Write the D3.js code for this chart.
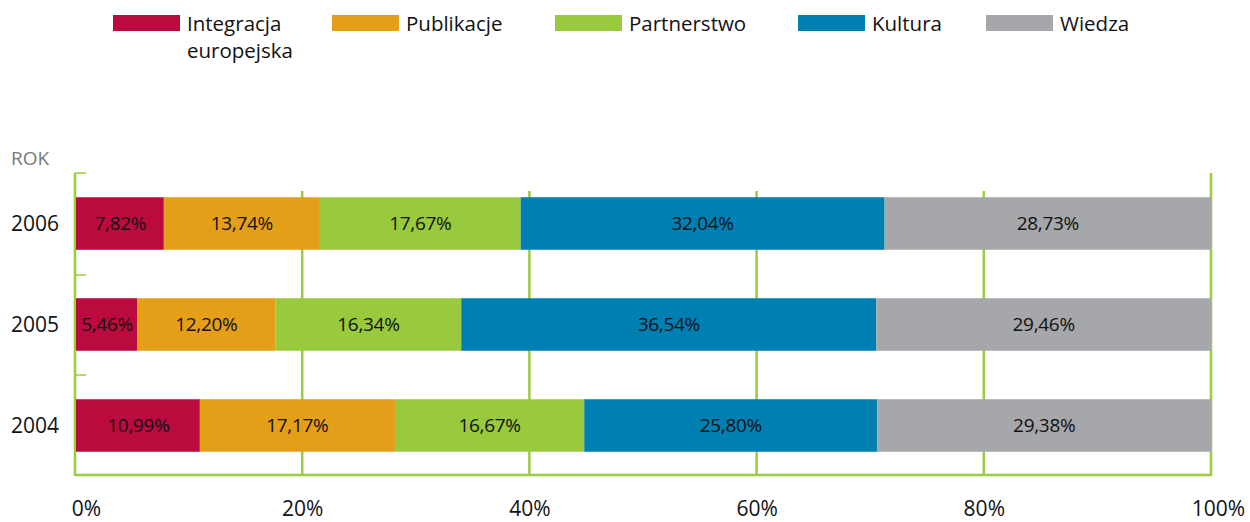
<!DOCTYPE html>
<html><head><meta charset="utf-8">
<script src="https://cdn.jsdelivr.net/npm/d3@7"></script>
<style>body{margin:0;background:#fff}svg{display:block}text{font-family:"Open Sans",sans-serif}</style>
</head><body><svg id="c" width="1250" height="522"></svg>
<script>
const years = ["2006", "2005", "2004"];
const seriesNames = ["Integracja europejska", "Publikacje", "Partnerstwo", "Kultura", "Wiedza"];
const legendLines = [["Integracja", "europejska"], ["Publikacje"], ["Partnerstwo"], ["Kultura"], ["Wiedza"]];
const colors = ["#BB0A3E", "#E59E18", "#99C93C", "#0080B2", "#A6A7AA"];
const integracja = [7.82, 5.46, 10.99];
const publikacje = [13.74, 12.20, 17.17];
const partnerstwo = [17.67, 16.34, 16.67];
const kultura = [32.04, 36.54, 25.80];
const wiedza = [28.73, 29.46, 29.38];
const xTicks = [0, 20, 40, 60, 80, 100];
const legendX = [113, 332, 555, 798, 986];

const svg = d3.select("#c");
const x = d3.scaleLinear().domain([0, 100]).range([75, 1211]);
const y = d3.scaleBand().domain(years).range([173, 476]).paddingInner(0.48).paddingOuter(0.24);
const green = "#9BCB3E";

const seriesVals = [integracja, publikacje, partnerstwo, kultura, wiedza];
const rows = years.map((yr, i) => { const o = {year: yr}; seriesNames.forEach((s, j) => o[s] = seriesVals[j][i]); return o; });
const stack = d3.stack().keys(seriesNames)(rows);

// gridlines
const g = svg.append("g");
xTicks.forEach(t => {
  const outer = (t === 0 || t === 100);
  g.append("line").attr("x1", x(t)).attr("x2", x(t))
    .attr("y1", outer ? 173 : 191).attr("y2", 476)
    .attr("stroke", green).attr("stroke-width", 2.5);
});
g.append("line").attr("x1", x(0)).attr("x2", x(100)).attr("y1", 475).attr("y2", 475).attr("stroke", green).attr("stroke-width", 2.5);
[173, 275, 375].forEach(v => g.append("line").attr("x1", x(0)).attr("x2", x(0) + 11).attr("y1", v).attr("y2", v).attr("stroke", green).attr("stroke-width", 1.5));

// bars
stack.forEach((s, j) => {
  const layer = svg.append("g").attr("fill", colors[j]);
  s.forEach(d => {
    layer.append("rect").attr("x", x(d[0]) + (j === 0 ? 1 : 0)).attr("y", y(d.data.year))
      .attr("width", x(d[1]) - x(d[0]) - (j === 0 ? 1 : 0)).attr("height", y.bandwidth());
  });
  s.forEach(d => {
    svg.append("text").attr("x", (x(d[0]) + x(d[1])) / 2 + (j === 0 ? 1 : 0)).attr("y", y(d.data.year) + y.bandwidth() / 2)
      .attr("dy", "0.36em").attr("text-anchor", "middle").attr("font-size", 19).attr("fill", "#111")
      .attr("letter-spacing", -0.3)
      .text((d[1] - d[0]).toFixed(2).replace(".", ",") + "%");
  });
});

// y labels
years.forEach(yr => svg.append("text").attr("x", 35).attr("y", y(yr) + y.bandwidth() / 2).attr("dy", "0.36em")
  .attr("text-anchor", "middle").attr("font-size", 21).attr("fill", "#111").text(yr));
svg.append("text").attr("x", 11).attr("y", 165).attr("font-size", 19).attr("fill", "#7a7a7a").text("ROK");

// x labels
const xa = svg.append("g").attr("transform", "translate(0,475)")
  .call(d3.axisBottom(x).tickValues(xTicks).tickSize(0).tickPadding(26).tickFormat(d => d + "%"));
xa.select(".domain").remove();
xa.selectAll("text").attr("font-size", 21).attr("fill", "#111").attr("font-family", "Open Sans, sans-serif");
xa.selectAll(".tick").filter(d => d === 0).select("text").attr("dx", 11);
xa.selectAll(".tick").filter(d => d === 100).select("text").attr("dx", 7);

// legend
legendLines.forEach((lines, i) => {
  const lg = svg.append("g").attr("transform", `translate(${legendX[i]},0)`);
  lg.append("rect").attr("x", 0).attr("y", 15).attr("width", 67).attr("height", 16).attr("fill", colors[i]);
  lines.forEach((l, k) => lg.append("text").attr("x", 74).attr("y", 31 + k * 27).attr("font-size", 20.5).attr("fill", "#111").text(l));
});
</script></body></html>
